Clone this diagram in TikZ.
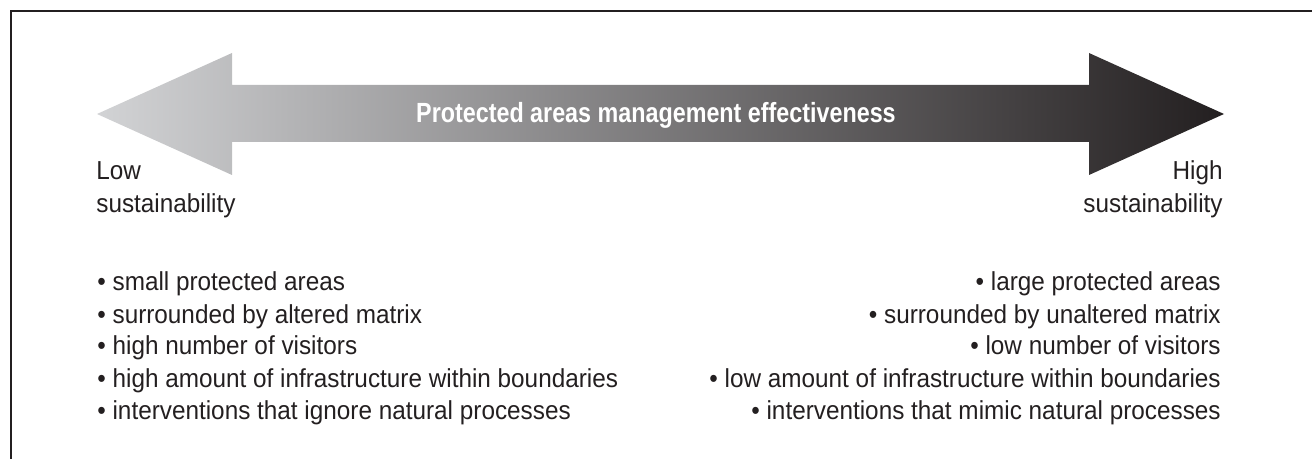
\documentclass[tikz,border=0pt]{standalone}
\usepackage{fontspec}
\setmainfont{Liberation Sans}[FakeStretch=0.935]
\newfontfamily\titlefont{Liberation Sans}[FakeStretch=0.84]
\definecolor{inkgray}{RGB}{35,31,32}
\definecolor{arrowlight}{RGB}{210,211,213}
\definecolor{arrowmid}{RGB}{128,130,133}

\begin{document}
\begin{tikzpicture}[x=0.02cm, y=0.02cm]
	\tikzstyle{every node}+=[inner sep=0pt, text=inkgray, font=\fontsize{14.8}{16}\selectfont]
	\tikzstyle{leftitem}=[anchor=base west]
	\tikzstyle{rightitem}=[anchor=base east]
	\useasboundingbox (0,0) rectangle (1312,-459);
	\draw [inkgray, line width=0.85pt] (11,-459) -- (11,-11) -- (1312,-11);
	\shade [left color=arrowlight, middle color=arrowmid, right color=inkgray] (97,-114) -- (232,-53) -- (232,-85) -- (1089,-85) -- (1089,-53) -- (1224,-114) -- (1089,-175) -- (1089,-142) -- (232,-142) -- (232,-175) -- cycle;
	\node [anchor=base, text=white, font=\titlefont\bfseries\fontsize{15.8}{18}\selectfont] (title) at (656,-123) {Protected areas management effectiveness};
	\node [leftitem] (low) at (96,-180) {Low};
	\node [leftitem] (lowsust) at (96,-213) {sustainability};
	\node [rightitem] (high) at (1223,-180) {High};
	\node [rightitem] (highsust) at (1223,-213) {sustainability};
	\node [leftitem] (lowa) at (97,-291) {\textbullet\ small protected areas};
	\node [leftitem] (lowb) at (97,-323) {\textbullet\ surrounded by altered matrix};
	\node [leftitem] (lowc) at (97,-355) {\textbullet\ high number of visitors};
	\node [leftitem] (lowd) at (97,-387) {\textbullet\ high amount of infrastructure within boundaries};
	\node [leftitem] (lowe) at (97,-419) {\textbullet\ interventions that ignore natural processes};
	\node [rightitem] (higha) at (1221,-291) {\textbullet\ large protected areas};
	\node [rightitem] (highb) at (1221,-323) {\textbullet\ surrounded by unaltered matrix};
	\node [rightitem] (highc) at (1221,-355) {\textbullet\ low number of visitors};
	\node [rightitem] (highd) at (1221,-387) {\textbullet\ low amount of infrastructure within boundaries};
	\node [rightitem] (highe) at (1221,-419) {\textbullet\ interventions that mimic natural processes};
\end{tikzpicture}
\end{document}
